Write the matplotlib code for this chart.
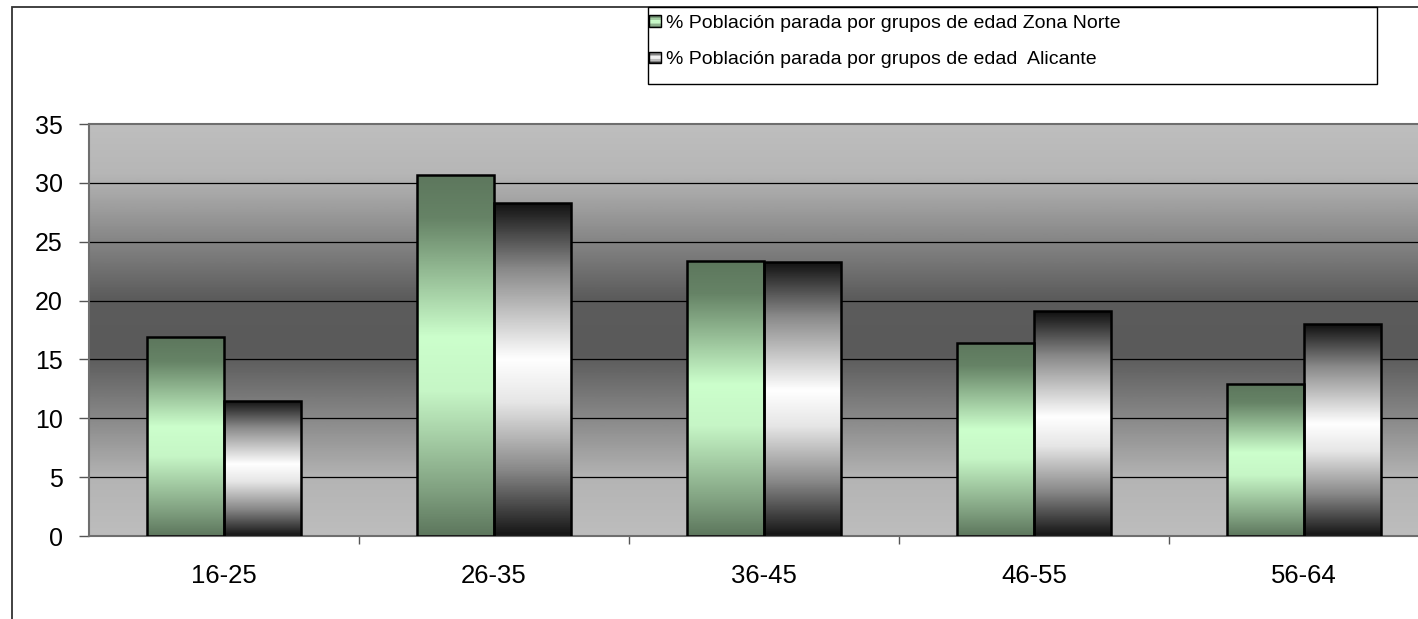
import matplotlib

matplotlib.use("Agg")
import matplotlib.pyplot as plt
import numpy as np
from matplotlib.colors import LinearSegmentedColormap
from matplotlib.legend_handler import HandlerBase
from matplotlib.patches import Patch, Rectangle

plt.rcParams["font.family"] = ["Liberation Sans", "DejaVu Sans"]

categories = ["16-25", "26-35", "36-45", "46-55", "56-64"]
zona_norte = [16.9, 30.7, 23.4, 16.4, 12.9]
alicante = [11.5, 28.3, 23.3, 19.1, 18.0]
series_labels = [
    "% Población parada por grupos de edad Zona Norte",
    "% Población parada por grupos de edad  Alicante",
]
y_ticks = [0, 5, 10, 15, 20, 25, 30, 35]

# vertical gradients, first stop = top of the shape
BG_CMAP = LinearSegmentedColormap.from_list(
    "bg", [(0.0, "#bebebe"), (0.12, "#b6b6b6"), (0.42, "#5c5c5c"), (0.56, "#5a5a5a"),
           (0.86, "#b4b4b4"), (1.0, "#bdbdbd")])
GREEN_CMAP = LinearSegmentedColormap.from_list(
    "green", [(0.0, "#5d775d"), (0.12, "#668366"), (0.45, "#ccffcc"), (0.6, "#c6f6c6"),
              (0.88, "#7f9f7f"), (1.0, "#5d775d")])
BW_CMAP = LinearSegmentedColormap.from_list(
    "bw", [(0.0, "#111111"), (0.2, "#8a8a8a"), (0.47, "#ffffff"), (0.6, "#e6e6e6"),
           (0.8, "#8a8a8a"), (1.0, "#151515")])


class StripeHandler(HandlerBase):
    def __init__(self, cmap, n=8):
        super().__init__()
        self.cmap = cmap
        self.n = n

    def create_artists(self, legend, orig_handle, xdescent, ydescent, width, height, fontsize, trans):
        size = min(width, height)
        x0 = -xdescent + (width - size) / 2
        y0 = -ydescent + (height - size) / 2
        arts = []
        h = size / self.n
        for i in range(self.n):
            c = self.cmap(1 - (i + 0.5) / self.n)
            arts.append(Rectangle((x0, y0 + i * h), size, h, facecolor=c, edgecolor="none", transform=trans))
        arts.append(Rectangle((x0, y0), size, size, facecolor="none", edgecolor="black", lw=1.0, transform=trans))
        return arts


W, H = 1418, 619
fig = plt.figure(figsize=(W / 100, H / 100), dpi=100)
fig.patch.set_facecolor("white")

# chart area border (cut off at right and bottom in the source)
fig.patches.append(Rectangle((11.5 / W, -0.2), 1.3, 1.2 - 7 / H, transform=fig.transFigure,
                             facecolor="none", edgecolor="#333333", lw=1.3))

ax = fig.add_axes([89 / W, (H - 536) / H, 1350 / W, 412 / H])
x = np.arange(len(categories))
ax.set_xlim(-0.5, len(categories) - 0.5)
ax.set_ylim(0, 35)

grad = np.linspace(0, 1, 400).reshape(-1, 1)
ax.imshow(grad, cmap=BG_CMAP, extent=(-0.5, len(categories) - 0.5, 0, 35), aspect="auto",
          origin="upper", zorder=0, interpolation="bilinear")
for yv in y_ticks[1:-1]:
    ax.axhline(yv, color="black", lw=0.9, zorder=1)

bw = 77 / 270
for vals, off, cmap in [(zona_norte, -bw / 2, GREEN_CMAP), (alicante, bw / 2, BW_CMAP)]:
    bars = ax.bar(x + off, vals, width=bw, facecolor="none", edgecolor="black", lw=1.8, zorder=3)
    for b in bars:
        bx, by = b.get_x(), b.get_y()
        im = ax.imshow(grad, cmap=cmap, extent=(bx, bx + b.get_width(), by, by + b.get_height()),
                       aspect="auto", origin="upper", zorder=2, interpolation="bilinear")
        im.set_clip_path(b)

for side in ["left", "bottom", "top"]:
    ax.spines[side].set_color("#6e6e6e")
    ax.spines[side].set_linewidth(1.5)
ax.spines["right"].set_visible(False)

ax.set_yticks(y_ticks)
ax.tick_params(axis="y", direction="out", length=7, width=1.0, color="#555555", pad=12, labelsize=18)
ax.set_xticks(x)
ax.set_xticklabels(categories)
ax.set_xticks(np.arange(len(categories)) + 0.5, minor=True)
ax.tick_params(axis="x", which="major", length=0, pad=20, labelsize=18.5)
ax.tick_params(axis="x", which="minor", direction="out", length=6, width=1.0, color="#555555")

# legend box drawn separately so its size matches the source
fig.patches.append(Rectangle((648 / W, 1 - 84 / H), (1377 - 648) / W, 77 / H, transform=fig.transFigure,
                             facecolor="white", edgecolor="black", lw=1.0, zorder=5))
handles = [Patch(label=series_labels[0]), Patch(label=series_labels[1])]
leg = fig.legend(
    handles=handles,
    loc="upper left",
    bbox_to_anchor=(649 / W, 1 - 15 / H),
    borderaxespad=0,
    borderpad=0,
    fontsize=14,
    handler_map={handles[0]: StripeHandler(GREEN_CMAP), handles[1]: StripeHandler(BW_CMAP)},
    handlelength=0.6,
    handleheight=0.6,
    handletextpad=0.25,
    labelspacing=1.0,
    frameon=False,
)
leg.set_zorder(6)

fig.savefig("out.png", dpi=100)
plt.close(fig)
